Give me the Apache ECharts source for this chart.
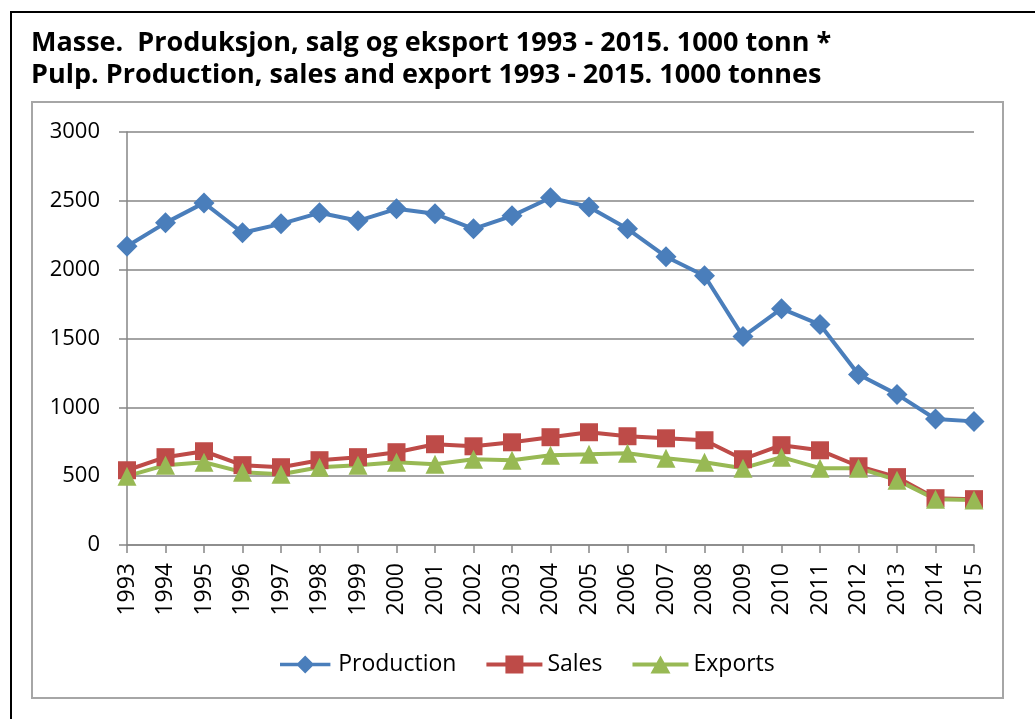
<!DOCTYPE html>
<html>
<head>
<meta charset="utf-8">
<script src="https://cdn.jsdelivr.net/npm/echarts@6/dist/echarts.min.js"></script>
<style>html,body{margin:0;padding:0;background:#fff;}#c{width:1035px;height:719px;}</style>
</head>
<body>
<div id="c"></div>
<script>
var years = ['1993','1994','1995','1996','1997','1998','1999','2000','2001','2002','2003','2004','2005','2006','2007','2008','2009','2010','2011','2012','2013','2014','2015'];
var production = [2170,2340,2485,2268,2333,2413,2355,2442,2406,2297,2391,2522,2456,2297,2094,1956,1514,1717,1601,1239,1094,915,898];
var sales = [543,638,681,580,565,616,638,674,732,717,746,783,819,790,775,761,623,725,688,572,493,340,333];
var exports_ = [500,580,601,529,514,565,580,601,587,623,616,652,659,667,630,601,558,638,558,558,471,333,326];
var yTicks = [0,500,1000,1500,2000,2500,3000];
var titleText = 'Masse.  Produksjon, salg og eksport 1993 - 2015. 1000 tonn *\nPulp. Production, sales and export 1993 - 2015. 1000 tonnes';

var FONT = 'Open Sans';
var BAR = 'M0,7 L56,7 L56,11 L0,11 Z ';
var ICON_DIAMOND = 'path://' + BAR + 'M18,9 L28,-1 L38,9 L28,19 Z';
var ICON_SQUARE = 'path://' + BAR + 'M19,0 L37,0 L37,18 L19,18 Z';
var ICON_TRI = 'path://' + BAR + 'M18,18 L28,0 L38,18 Z';

var chart = echarts.init(document.getElementById('c'), null, {renderer:'canvas'});
function mk(name, data, color, symbol, size) {
  return {
    name: name, type: 'line', data: data,
    symbol: symbol, symbolSize: size, showSymbol: true,
    lineStyle: {color: color, width: 4},
    itemStyle: {color: color, borderWidth: 0},
    emphasis: {disabled: true},
    animation: false
  };
}
chart.setOption({
  animation: false,
  backgroundColor: '#fff',
  textStyle: {fontFamily: FONT},
  graphic: [
    {type:'rect', shape:{x:11,y:12,width:1060,height:760}, style:{fill:'none', stroke:'#000', lineWidth:2}, silent:true, z:-10},
    {type:'rect', shape:{x:32,y:102,width:971,height:596}, style:{fill:'none', stroke:'#a6a6a6', lineWidth:2}, silent:true, z:-10}
  ],
  title: {
    text: titleText,
    left: 31, top: 27, padding: 0,
    textStyle: {fontFamily: FONT, fontWeight: 'bold', fontSize: 27, lineHeight: 32, color: '#000'}
  },
  legend: {
    left: 275, top: 648, itemWidth: 56, itemHeight: 18, itemGap: 30,
    textStyle: {fontFamily: FONT, fontSize: 23, color: '#000'},
    data: [
      {name: 'Production', icon: ICON_DIAMOND},
      {name: 'Sales', icon: ICON_SQUARE},
      {name: 'Exports', icon: ICON_TRI}
    ]
  },
  grid: {left: 127, right: 61, top: 132, bottom: 174, containLabel: false},
  xAxis: {
    type: 'category', data: years, boundaryGap: false,
    axisLine: {lineStyle: {color: '#868686', width: 1.5}},
    axisTick: {show: true, length: 8, alignWithLabel: true, lineStyle: {color: '#868686', width: 1.5}},
    axisLabel: {rotate: 90, margin: 18, interval: 0, fontFamily: FONT, fontSize: 23, color: '#000'},
    splitLine: {show: false}
  },
  yAxis: {
    type: 'value', min: yTicks[0], max: yTicks[yTicks.length-1], interval: yTicks[1]-yTicks[0],
    axisLine: {show: true, lineStyle: {color: '#868686', width: 1.5}},
    axisTick: {show: true, length: 8, lineStyle: {color: '#868686', width: 1.5}},
    axisLabel: {margin: 27, fontFamily: FONT, fontSize: 22, color: '#000', formatter: function(v){ return String(v); }},
    splitLine: {show: true, lineStyle: {color: '#868686', width: 1.5}}
  },
  series: [
    mk('Production', production, '#4A7EBB', 'diamond', 21),
    mk('Sales', sales, '#BE4B48', 'rect', 18),
    mk('Exports', exports_, '#98B954', 'triangle', 19)
  ]
});
</script>
</body>
</html>
